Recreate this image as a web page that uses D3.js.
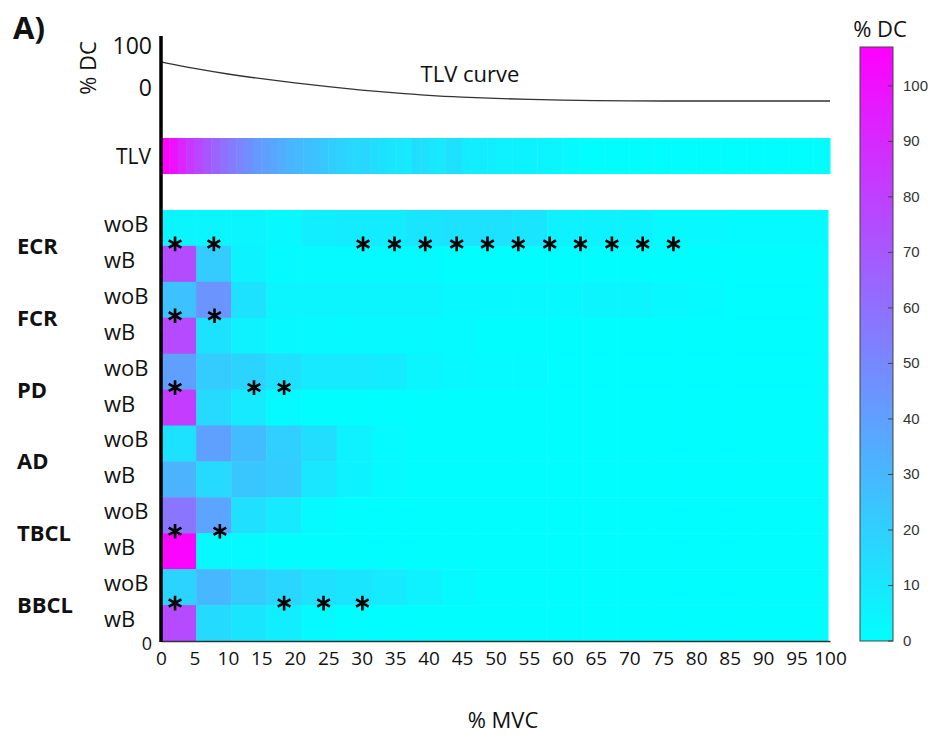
<!DOCTYPE html>
<html lang="en">

<head>
    <meta charset="utf-8">
    <title>TLV heatmap</title>
    <script src="https://d3js.org/d3.v7.min.js"></script>
    <style type="text/css">
        body { margin: 0; background: #fff; }
        text { font-family: "Open Sans", "DejaVu Sans", sans-serif; fill: #111; }
    </style>
</head>

<body>
    <script type="text/javascript">

        //Width and height
        var w = 940;
        var h = 738;

        // data
        var muscles = ["ECR", "FCR", "PD", "AD", "TBCL", "BBCL"];
        var conditions = ["woB", "wB"];
        var mvcBins = ["0-5", "5-10", "10-15", "15-20", "20-25", "25-30", "30-35", "35-40", "40-45", "45-50",
            "50-55", "55-60", "60-65", "65-70", "70-75", "75-80", "80-85", "85-90", "90-95"];
        var xTicks = [0, 5, 10, 15, 20, 25, 30, 35, 40, 45, 50, 55, 60, 65, 70, 75, 80, 85, 90, 95, 100];
        var colorTicks = [0, 10, 20, 30, 40, 50, 60, 70, 80, 90, 100];

        var ecrWoB = [4, 4, 4, 3, 7, 8, 8, 11, 12, 12, 11, 6, 6, 5, 3, 3, 2, 2, 2];
        var ecrWB = [75, 22, 5, 2, 2, 2, 2, 2, 1, 1, 1, 1, 1, 1, 1, 1, 1, 1, 1];
        var fcrWoB = [26, 45, 12, 4, 4, 4, 4, 4, 3, 3, 3, 3, 4, 4, 3, 2, 1, 1, 1];
        var fcrWB = [76, 12, 6, 3, 2, 2, 2, 2, 2, 1, 1, 1, 1, 1, 1, 1, 1, 1, 1];
        var pdWoB = [40, 22, 18, 13, 9, 9, 8, 4, 3, 2, 2, 1, 1, 1, 1, 1, 1, 1, 1];
        var pdWB = [82, 16, 9, 2, 1, 1, 1, 1, 1, 1, 1, 1, 1, 1, 1, 1, 1, 1, 1];
        var adWoB = [12, 40, 28, 20, 14, 6, 2, 1, 1, 1, 1, 1, 1, 1, 1, 1, 1, 1, 1];
        var adWB = [32, 16, 24, 22, 10, 5, 2, 1, 1, 1, 1, 1, 1, 1, 1, 1, 1, 1, 1];
        var tbclWoB = [58, 38, 13, 9, 2, 1, 1, 1, 1, 1, 1, 1, 1, 1, 1, 1, 1, 1, 1];
        var tbclWB = [105, 3, 2, 1, 1, 1, 1, 1, 1, 1, 1, 1, 1, 1, 1, 1, 1, 1, 1];
        var bbclWoB = [18, 30, 22, 17, 13, 11, 9, 6, 2, 1, 1, 1, 1, 1, 1, 1, 1, 1, 1];
        var bbclWB = [76, 15, 11, 7, 2, 1, 1, 1, 1, 1, 1, 1, 1, 1, 1, 1, 1, 1, 1];

        // significance stars (% MVC position) per muscle
        var ecrStars = [2.1, 7.9, 30.2, 34.9, 39.5, 44.2, 48.8, 53.4, 58.1, 62.7, 67.4, 72, 76.6];
        var fcrStars = [2.1, 8];
        var pdStars = [2.1, 13.9, 18.4];
        var adStars = [];
        var tbclStars = [2.1, 8.8];
        var bbclStars = [2.1, 18.4, 24.3, 30.1];

        // TLV bar, 1.25 % MVC steps
        var tlvBar = [106, 100, 92, 84, 77, 71, 65, 60, 55, 51, 47, 43, 40, 37, 34, 31, 29, 27, 25, 23,
            21, 19, 17, 16, 17, 14, 12, 11, 10, 9, 14, 13, 10, 9, 13, 12, 8, 7, 8, 7,
            6, 6, 6, 5, 5, 5, 4, 4, 3, 2, 1, 1, 1, 1, 1, 1, 1, 1, 1, 1,
            1, 1, 1, 1, 1, 1, 1, 1, 1, 1, 1, 1, 1, 1, 1, 1, 1, 1, 1, 1];

        // TLV curve, read every 5 % MVC
        var tlvCurveX = [0, 5, 10, 15, 20, 25, 30, 35, 40, 45, 50, 55, 60, 65, 70, 75, 80, 85, 90, 95, 100];
        var tlvCurveY = [62, 46, 33, 22, 12, 3, -5, -12, -18, -22, -25, -27, -29, -30, -30.5, -31, -31, -31, -31, -31, -31];

        var rows = [
            ["ECR", "woB", ecrWoB], ["ECR", "wB", ecrWB],
            ["FCR", "woB", fcrWoB], ["FCR", "wB", fcrWB],
            ["PD", "woB", pdWoB], ["PD", "wB", pdWB],
            ["AD", "woB", adWoB], ["AD", "wB", adWB],
            ["TBCL", "woB", tbclWoB], ["TBCL", "wB", tbclWB],
            ["BBCL", "woB", bbclWoB], ["BBCL", "wB", bbclWB]
        ];
        var stars = { ECR: ecrStars, FCR: fcrStars, PD: pdStars, AD: adStars, TBCL: tbclStars, BBCL: bbclStars };

        var svg = d3.select("body")
            .append("svg")
            .attr("width", w)
            .attr("height", h);

        // scales
        var x = d3.scaleLinear().domain([0, 100]).range([161, 830]);
        var xBand = d3.scaleBand().domain(mvcBins).range([161, 828]);
        var yRow = d3.scaleBand()
            .domain(rows.map(function (d) { return d[0] + "-" + d[1]; }))
            .range([210, 641]);
        var yTop = d3.scaleLinear().domain([0, 100]).range([88, 46]);
        var color = d3.scaleLinear().domain([0, 107]).range(["#00ffff", "#ff00ff"]);
        var yBar = d3.scaleLinear().domain([0, 107]).range([641, 47]);

        // heatmap cells
        var cells = [];
        rows.forEach(function (r) {
            r[2].forEach(function (v, i) {
                cells.push({ key: r[0] + "-" + r[1], bin: mvcBins[i], v: v });
            });
        });
        svg.append("g").selectAll("rect")
            .data(cells)
            .enter()
            .append("rect")
            .attr("x", function (d) { return xBand(d.bin); })
            .attr("y", function (d) { return yRow(d.key); })
            .attr("width", xBand.bandwidth() + 0.5)
            .attr("height", yRow.bandwidth() + 0.5)
            .attr("fill", function (d) { return color(d.v); });

        // TLV bar
        var step = 100 / tlvBar.length;
        svg.append("g").selectAll("rect")
            .data(tlvBar)
            .enter()
            .append("rect")
            .attr("x", function (d, i) { return x(i * step); })
            .attr("y", 138)
            .attr("width", x(step) - x(0) + 0.5)
            .attr("height", 36)
            .attr("fill", function (d) { return color(d); });

        // TLV curve
        var line = d3.line()
            .x(function (d) { return x(d[0]); })
            .y(function (d) { return yTop(d[1]); })
            .curve(d3.curveBasis);
        svg.append("path")
            .datum(d3.zip(tlvCurveX, tlvCurveY))
            .attr("d", line)
            .attr("fill", "none")
            .attr("stroke", "#333")
            .attr("stroke-width", 1.3);

        svg.append("text").attr("x", 470).attr("y", 82)
            .attr("text-anchor", "middle").style("font-size", "22px").text("TLV curve");

        // top y labels
        svg.selectAll(".ytop")
            .data([100, 0])
            .enter()
            .append("text")
            .attr("x", 152)
            .attr("y", function (d) { return yTop(d) + 8; })
            .attr("text-anchor", "end")
            .style("font-size", "23px")
            .text(function (d) { return d; });
        svg.append("text")
            .attr("transform", "translate(96,68) rotate(-90)")
            .attr("text-anchor", "middle")
            .style("font-size", "22px")
            .text("% DC");
        svg.append("text").attr("x", 151).attr("y", 164)
            .attr("text-anchor", "end").style("font-size", "21px").text("TLV");

        // row labels
        svg.append("g").selectAll("text")
            .data(rows)
            .enter()
            .append("text")
            .attr("x", 104)
            .attr("y", function (d) { return yRow(d[0] + "-" + d[1]) + yRow.bandwidth() / 2 + 4; })
            .style("font-size", "22px")
            .text(function (d) { return d[1]; });
        svg.append("g").selectAll("text")
            .data(muscles)
            .enter()
            .append("text")
            .attr("x", 17)
            .attr("y", function (d) { return yRow(d + "-wB") + 8; })
            .style("font-size", "22px")
            .style("font-weight", "bold")
            .text(function (d) { return d; });

        // stars
        var starData = [];
        muscles.forEach(function (m) {
            stars[m].forEach(function (s) { starData.push({ m: m, x: s }); });
        });
        svg.append("g").selectAll("path")
            .data(starData)
            .enter()
            .append("path")
            .attr("d", d3.symbol(d3.symbolAsterisk, 150))
            .attr("transform", function (d) {
                return "translate(" + x(d.x) + "," + (yRow(d.m + "-wB") - 2) + ")";
            })
            .attr("fill", "none")
            .attr("stroke", "#000")
            .attr("stroke-width", 2.6);

        // axes
        var xAxis = d3.axisBottom(x).tickValues(xTicks).tickSize(0).tickPadding(11).tickSizeOuter(0);
        var gx = svg.append("g").attr("transform", "translate(0,641)").call(xAxis);
        gx.select(".domain").attr("stroke", "#333").attr("stroke-width", 1.6);
        gx.selectAll("text").style("font-size", "19px").style("font-family", "'Open Sans', sans-serif").attr("fill", "#111");

        svg.append("line")
            .attr("x1", x(0)).attr("x2", x(0))
            .attr("y1", 36).attr("y2", 642)
            .attr("stroke", "#000").attr("stroke-width", 3.5);
        svg.append("text").attr("x", 152).attr("y", 650)
            .attr("text-anchor", "end").style("font-size", "18px").text("0");

        svg.append("text").attr("x", 503).attr("y", 728)
            .attr("text-anchor", "middle").style("font-size", "22px").text("% MVC");

        svg.append("text").attr("x", 13).attr("y", 39)
            .style("font-size", "31px").style("font-weight", "bold").text("A)");

        // colorbar
        var grad = svg.append("defs").append("linearGradient")
            .attr("id", "cbar").attr("x1", 0).attr("x2", 0).attr("y1", 1).attr("y2", 0);
        grad.selectAll("stop")
            .data([0, 107])
            .enter()
            .append("stop")
            .attr("offset", function (d) { return d / 107; })
            .attr("stop-color", function (d) { return color(d); });
        svg.append("rect")
            .attr("x", 860).attr("y", yBar(107))
            .attr("width", 33).attr("height", yBar(0) - yBar(107))
            .attr("fill", "url(#cbar)")
            .attr("stroke", "#444").attr("stroke-width", 1);
        svg.append("g").selectAll("line")
            .data(colorTicks)
            .enter()
            .append("line")
            .attr("x1", 888).attr("x2", 893)
            .attr("y1", function (d) { return yBar(d); })
            .attr("y2", function (d) { return yBar(d); })
            .attr("stroke", "#444");
        svg.append("g").selectAll("text")
            .data(colorTicks)
            .enter()
            .append("text")
            .attr("x", 903)
            .attr("y", function (d) { return yBar(d) + 5; })
            .style("font-family", "'Liberation Sans', Arial, sans-serif")
            .style("font-size", "15px")
            .style("fill", "#333")
            .text(function (d) { return d; });
        svg.append("text").attr("x", 880).attr("y", 37)
            .attr("text-anchor", "middle").style("font-size", "22px").text("% DC");

    </script>
</body>

</html>
